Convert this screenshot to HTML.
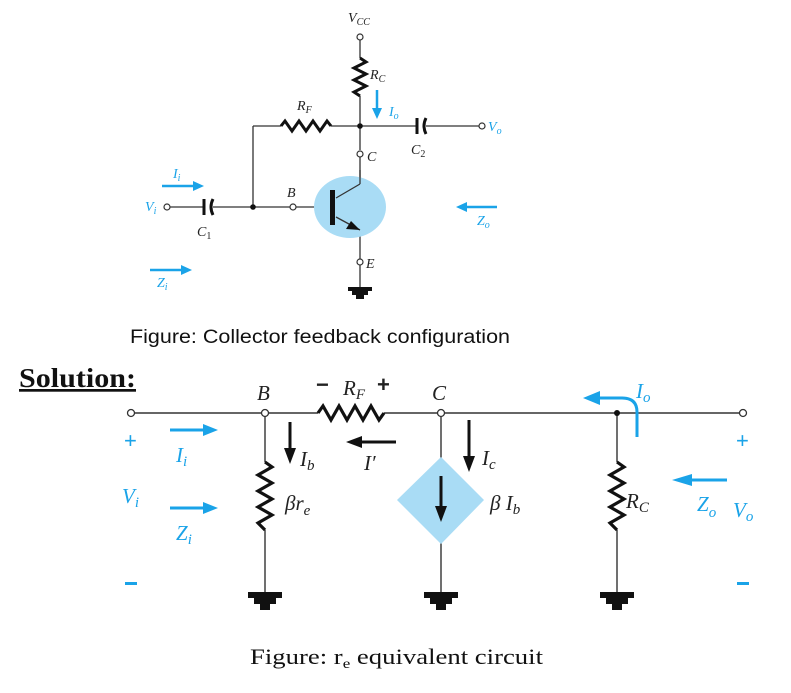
<!DOCTYPE html>
<html><head><meta charset="utf-8"><style>
html,body{margin:0;padding:0;background:#fff;}
svg{display:block}
.s{font-family:"Liberation Serif",serif;font-style:italic}
.b{fill:#1aa3e8}
</style></head><body>
<svg width="791" height="693" viewBox="0 0 791 693" xmlns="http://www.w3.org/2000/svg">
<defs>
<g id="gnd"><rect x="-17" y="0" width="34" height="6" fill="#111"/><rect x="-11" y="6" width="22" height="6" fill="#111"/><rect x="-5" y="12" width="10" height="6" fill="#111"/></g>
<g id="gnds"><rect x="-12" y="0" width="24" height="4" fill="#111"/><rect x="-8" y="4" width="16" height="4" fill="#111"/><rect x="-4" y="8" width="8" height="4" fill="#111"/></g>
</defs>
<!-- TOP CIRCUIT -->
<g stroke="#333" stroke-width="1.3" fill="none">
<line x1="360" y1="40" x2="360" y2="58"/>
<polyline stroke="#111" stroke-width="3" points="360,58 366,62 354,68 366,74 354,80 366,86 354,92 360,96"/>
<line x1="360" y1="96" x2="360" y2="150"/>
<line x1="253" y1="126" x2="281" y2="126"/>
<polyline stroke="#111" stroke-width="3" points="281,126 285,121 292,131 299,121 306,131 313,121 320,131 327,121 331,126"/>
<line x1="331" y1="126" x2="416" y2="126"/>
<line x1="426" y1="126" x2="479" y2="126"/>
<line x1="253" y1="126" x2="253" y2="207"/>
<line x1="170" y1="207" x2="203" y2="207"/>
<line x1="213" y1="207" x2="290" y2="207"/>
<line x1="296" y1="207" x2="332" y2="207"/>
<line x1="360" y1="157" x2="360" y2="184"/>
<line x1="360" y1="230" x2="360" y2="259"/>
<line x1="360" y1="265" x2="360" y2="287"/>
</g>
<ellipse cx="350" cy="207" rx="36" ry="31" fill="#a9dcf5"/>
<g stroke="#333" stroke-width="1.3" fill="none">
<line x1="336" y1="198" x2="360" y2="184"/>
<line x1="336" y1="217" x2="360" y2="230"/>
<line x1="360" y1="184" x2="360" y2="170"/>
</g>
<rect x="330" y="190" width="5" height="35" fill="#111"/>
<polygon points="360,230 346,229 351,221" fill="#111"/>
<path d="M204,199 L204,215" stroke="#111" stroke-width="3"/>
<path d="M213,199 Q209,207 213,215" stroke="#111" stroke-width="3" fill="none"/>
<path d="M417,118 L417,134" stroke="#111" stroke-width="3"/>
<path d="M426,118 Q422,126 426,134" stroke="#111" stroke-width="3" fill="none"/>
<circle cx="253" cy="207" r="2.8" fill="#111"/>
<circle cx="360" cy="126" r="2.8" fill="#111"/>
<g fill="#fff" stroke="#333" stroke-width="1.2">
<circle cx="360" cy="37" r="3"/><circle cx="360" cy="154" r="3"/><circle cx="360" cy="262" r="3"/>
<circle cx="293" cy="207" r="3"/><circle cx="167" cy="207" r="3"/><circle cx="482" cy="126" r="3"/>
</g>
<use href="#gnds" x="360" y="287"/>
<g stroke="#1aa3e8" stroke-width="2.5">
<line x1="377" y1="90" x2="377" y2="110"/><line x1="162" y1="186" x2="195" y2="186"/>
<line x1="150" y1="270" x2="183" y2="270"/><line x1="497" y1="207" x2="465" y2="207"/>
</g>
<g class="b"><polygon points="372,108 382,108 377,119"/><polygon points="193,181 193,191 204,186"/>
<polygon points="181,265 181,275 192,270"/><polygon points="467,202 467,212 456,207"/></g>
<g class="s" font-size="14" fill="#222">
<text x="348" y="22">V<tspan font-size="10" dy="3">CC</tspan></text>
<text x="370" y="79">R<tspan font-size="10" dy="3">C</tspan></text>
<text x="297" y="110">R<tspan font-size="10" dy="3">F</tspan></text>
<text x="367" y="161">C</text><text x="411" y="154">C<tspan font-size="10" dy="3" font-style="normal">2</tspan></text>
<text x="287" y="197">B</text><text x="366" y="268">E</text>
<text x="197" y="236">C<tspan font-size="10" dy="3" font-style="normal">1</tspan></text>
</g>
<g class="s b" font-size="14">
<text x="389" y="116">I<tspan font-size="10" dy="3">o</tspan></text>
<text x="488" y="131">V<tspan font-size="10" dy="3">o</tspan></text>
<text x="145" y="211">V<tspan font-size="10" dy="3">i</tspan></text>
<text x="173" y="178">I<tspan font-size="10" dy="3">i</tspan></text>
<text x="477" y="225">Z<tspan font-size="10" dy="3">o</tspan></text>
<text x="157" y="287">Z<tspan font-size="10" dy="3">i</tspan></text>
</g>
<text x="130" y="343" font-family="Liberation Sans,sans-serif" font-size="19" fill="#111" textLength="380" lengthAdjust="spacingAndGlyphs">Figure: Collector feedback configuration</text>
<text x="19" y="387" font-family="Liberation Serif,serif" font-weight="bold" font-size="27" fill="#111" text-decoration="underline" textLength="117" lengthAdjust="spacingAndGlyphs">Solution:</text>
<!-- BOTTOM CIRCUIT -->
<g stroke="#333" stroke-width="1.4" fill="none">
<line x1="134" y1="413" x2="262" y2="413"/><line x1="268" y1="413" x2="318" y2="413"/>
<line x1="384" y1="413" x2="438" y2="413"/><line x1="444" y1="413" x2="740" y2="413"/>
<line x1="265" y1="416" x2="265" y2="462"/><line x1="265" y1="530" x2="265" y2="592"/>
<line x1="441" y1="416" x2="441" y2="458"/><line x1="441" y1="543" x2="441" y2="592"/>
<line x1="617" y1="413" x2="617" y2="462"/><line x1="617" y1="530" x2="617" y2="592"/>
</g>
<g stroke="#111" stroke-width="3.2" fill="none">
<polyline points="318,413 323,406 331,420 339,406 347,420 355,406 363,420 371,406 379,420 384,413"/>
<polyline points="265,462 272,467 258,475 272,483 258,491 272,499 258,507 272,515 258,523 265,530"/>
<polyline points="617,462 624,467 610,475 624,483 610,491 624,499 610,507 624,515 610,523 617,530"/>
</g>
<polygon points="441,457 484,500 441,544 397,500" fill="#a9dcf5"/>
<g fill="#fff" stroke="#333" stroke-width="1.3">
<circle cx="131" cy="413" r="3.5"/><circle cx="265" cy="413" r="3.5"/><circle cx="441" cy="413" r="3.5"/><circle cx="743" cy="413" r="3.5"/>
</g>
<circle cx="617" cy="413" r="3" fill="#111"/>
<use href="#gnd" x="265" y="592"/><use href="#gnd" x="441" y="592"/><use href="#gnd" x="617" y="592"/>
<g stroke="#111" stroke-width="3">
<line x1="290" y1="422" x2="290" y2="450"/><line x1="469" y1="420" x2="469" y2="460"/>
<line x1="441" y1="476" x2="441" y2="510"/><line x1="396" y1="442" x2="360" y2="442"/>
</g>
<g fill="#111">
<polygon points="284,448 296,448 290,464"/><polygon points="463,456 475,456 469,472"/>
<polygon points="435,506 447,506 441,522"/><polygon points="362,436 362,448 346,442"/>
</g>
<g stroke="#1aa3e8" stroke-width="3" fill="none">
<line x1="170" y1="430" x2="205" y2="430"/><line x1="170" y1="508" x2="205" y2="508"/>
<line x1="727" y1="480" x2="690" y2="480"/>
<path d="M637,437 L637,412 Q637,398 622,398 L598,398"/>
</g>
<g class="b">
<polygon points="203,424 203,436 218,430"/><polygon points="203,502 203,514 218,508"/>
<polygon points="692,474 692,486 672,480"/><polygon points="600,391 600,405 583,398"/>
</g>
<g font-family="Liberation Sans,sans-serif" font-size="22" class="b">
<text x="124" y="448">+</text><text x="736" y="448">+</text>
<rect x="125" y="582" width="12" height="3"/><rect x="737" y="582" width="12" height="3"/>
</g>
<g class="s" font-size="21" fill="#222">
<text x="257" y="400">B</text><text x="432" y="400">C</text>
<text x="343" y="395">R<tspan font-size="15" dy="4">F</tspan></text>
<text x="300" y="466">I<tspan font-size="15" dy="4">b</tspan></text>
<text x="364" y="470">I′</text>
<text x="482" y="465">I<tspan font-size="15" dy="4">c</tspan></text>
<text x="285" y="510">βr<tspan font-size="15" dy="5">e</tspan></text>
<text x="490" y="510">β I<tspan font-size="15" dy="4">b</tspan></text>
<text x="626" y="508">R<tspan font-size="15" dy="4">C</tspan></text>
</g>
<g font-family="Liberation Sans,sans-serif" font-size="22" font-weight="bold" fill="#222">
<text x="316" y="392">−</text><text x="377" y="392">+</text>
</g>
<g class="s b" font-size="21">
<text x="636" y="398">I<tspan font-size="15" dy="4">o</tspan></text>
<text x="176" y="462">I<tspan font-size="15" dy="4">i</tspan></text>
<text x="122" y="503">V<tspan font-size="15" dy="4">i</tspan></text>
<text x="176" y="540">Z<tspan font-size="15" dy="4">i</tspan></text>
<text x="697" y="511">Z<tspan font-size="15" dy="6">o</tspan></text>
<text x="733" y="517">V<tspan font-size="15" dy="4">o</tspan></text>
</g>
<text x="250" y="664" font-family="Liberation Serif,serif" font-size="22" fill="#111" textLength="293" lengthAdjust="spacingAndGlyphs">Figure: r<tspan font-size="14" dy="4">e</tspan><tspan dy="-4"> equivalent  circuit</tspan></text>
</svg>
</body></html>
